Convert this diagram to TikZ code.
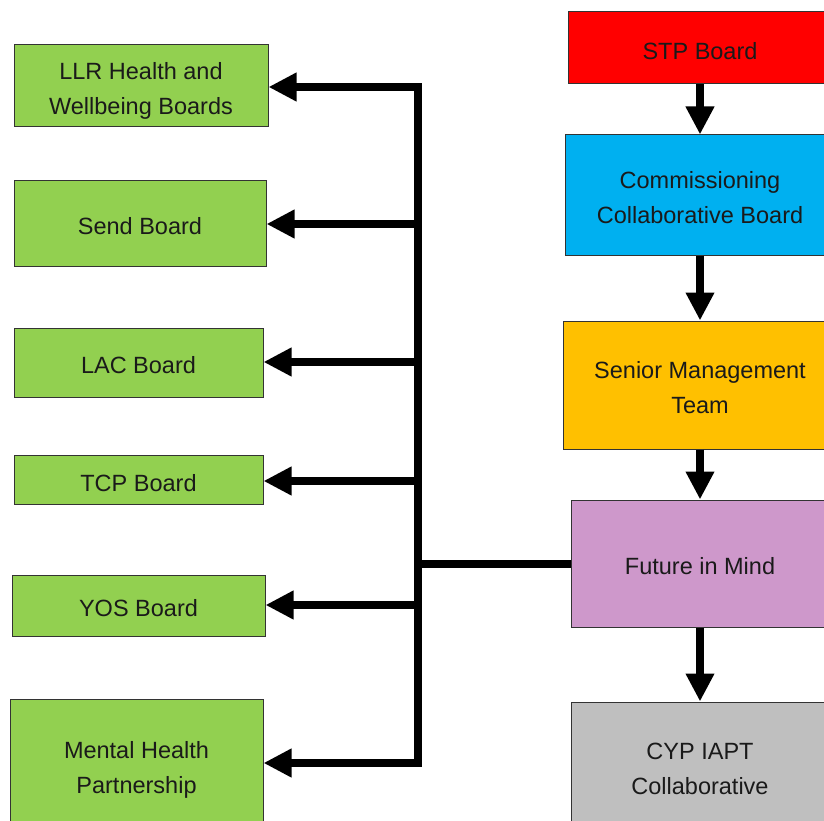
\documentclass[tikz,border=0pt]{standalone}
\usepackage{fontspec}
\setmainfont{Liberation Sans}
\usetikzlibrary{arrows.meta}
\definecolor{cgreen}{HTML}{92D050}
\definecolor{cred}{HTML}{FF0000}
\definecolor{cblue}{HTML}{00B0F0}
\definecolor{corange}{HTML}{FFC000}
\definecolor{cpurple}{HTML}{CE98CB}
\definecolor{cgrey}{HTML}{BFBFBF}
\definecolor{ctext}{HTML}{1A1A1A}
\tikzset{
  box/.style={draw=black!80, line width=1pt, rectangle, align=center, inner sep=0pt,
    text=ctext, font=\fontsize{23.5}{35}\selectfont,
    execute at begin node={\rule{0pt}{23pt}}},
  twoline/.style={text height=57pt, text depth=0pt},
  conn/.style={line width=8pt, draw=black},
  arr/.style={conn, -{Triangle[length=28pt 0 0, width=27pt 0 0]}},
}
\begin{document}
\begin{tikzpicture}[x=1pt, y=-1pt]
\useasboundingbox (0,0) rectangle (824,821);
\clip (0,0) rectangle (824,821);
\fill[white] (0,0) rectangle (824,821);
% left column
\node[box, twoline, fill=cgreen, minimum width=254pt, minimum height=82pt] (llr) at (141,86) {LLR Health and\\Wellbeing Boards};
\node[box, fill=cgreen, minimum width=252pt, minimum height=85pt] (send) at (140,223.5) {Send Board};
\node[box, fill=cgreen, minimum width=249pt, minimum height=69pt] (lac) at (138.5,362.5) {LAC Board};
\node[box, fill=cgreen, minimum width=249pt, minimum height=49pt] (tcp) at (138.5,480) {TCP Board};
\node[box, fill=cgreen, minimum width=253pt, minimum height=61pt] (yos) at (138.5,605.5) {YOS Board};
\node[box, twoline, fill=cgreen, minimum width=253pt, minimum height=132pt] (mhp) at (136.5,765) {Mental Health\\Partnership};
% right column
\node[box, fill=cred, minimum width=264pt, minimum height=72pt] (stp) at (700,48) {STP Board};
\node[box, twoline, fill=cblue, minimum width=270pt, minimum height=120pt] (ccb) at (700,195) {Commissioning\\Collaborative Board};
\node[box, twoline, fill=corange, minimum width=274pt, minimum height=128pt] (smt) at (700,385) {Senior Management\\Team};
\node[box, fill=cpurple, minimum width=258pt, minimum height=127pt] (fim) at (700,563.5) {Future in Mind};
\node[box, twoline, fill=cgrey, minimum width=258pt, minimum height=128pt] (cyp) at (700,766) {CYP IAPT\\Collaborative};
% vertical arrows on the right
\draw[arr] (stp.south) -- (ccb.north);
\draw[arr] (ccb.south) -- (smt.north);
\draw[arr] (smt.south) -- (fim.north);
\draw[arr] (fim.south) -- (cyp.north);
% trunk
\coordinate (j1) at (418,87);
\coordinate (j2) at (418,224);
\coordinate (j3) at (418,362);
\coordinate (j4) at (418,481);
\coordinate (j5) at (418,605);
\coordinate (j6) at (418,763);
\coordinate (jf) at (418,564);
\draw[conn, line cap=rect] (j1) -- (j6);
\draw[conn] (fim.west |- jf) -- (jf);
\draw[arr] (j1) -- (j1 -| llr.east);
\draw[arr] (j2) -- (j2 -| send.east);
\draw[arr] (j3) -- (j3 -| lac.east);
\draw[arr] (j4) -- (j4 -| tcp.east);
\draw[arr] (j5) -- (j5 -| yos.east);
\draw[arr] (j6) -- (j6 -| mhp.east);
\end{tikzpicture}
\end{document}
